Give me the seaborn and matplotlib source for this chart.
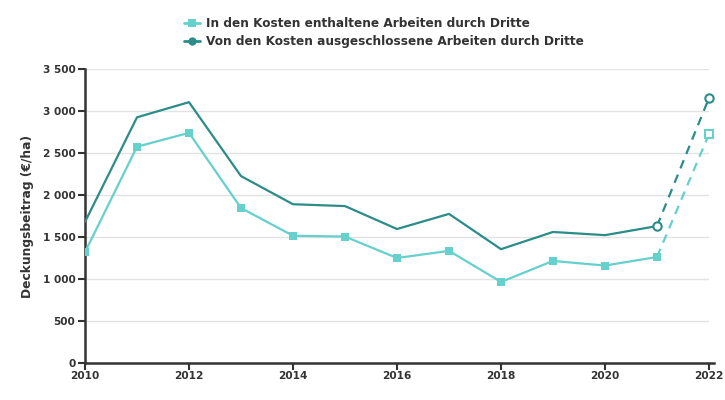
import matplotlib
matplotlib.use("Agg")
import matplotlib.pyplot as plt
import seaborn as sns
import pandas as pd
from matplotlib.lines import Line2D
from matplotlib.ticker import FuncFormatter

years = [2010, 2011, 2012, 2013, 2014, 2015, 2016, 2017, 2018, 2019, 2020, 2021, 2022]
incl = [1320, 2575, 2740, 1845, 1515, 1505, 1250, 1335, 965, 1215, 1160, 1262, 2725]
excl = [1680, 2925, 3105, 2225, 1890, 1868, 1595, 1775, 1355, 1560, 1522, 1630, 3155]
labels = ["In den Kosten enthaltene Arbeiten durch Dritte",
          "Von den Kosten ausgeschlossene Arbeiten durch Dritte"]
light = "#66d0cc"
dark = "#2b8c88"
txt = "#333333"

sns.set_theme(style="white")
plt.rcParams['font.family'] = ['DejaVu Sans']

df_i = pd.DataFrame({"year": years, "val": incl})
df_e = pd.DataFrame({"year": years, "val": excl})

fig = plt.figure(figsize=(7.25, 4.0), dpi=100)
ax = fig.add_axes([85/725, 1-363/400, (709-85)/725, (363-69)/400])

for yv in range(500, 3501, 500):
    ax.axhline(yv, color="#e3e3e3", lw=1, zorder=0)

sns.lineplot(data=df_e.iloc[:12], x="year", y="val", color=dark, lw=1.6, ax=ax, zorder=3)
sns.lineplot(data=df_e.iloc[11:], x="year", y="val", color=dark, lw=1.6, ls=(0, (4, 3)), ax=ax, zorder=3)
sns.lineplot(data=df_i.iloc[:12], x="year", y="val", color=light, lw=1.6, ax=ax, zorder=4,
             marker="s", markersize=6, markeredgewidth=0)
sns.lineplot(data=df_i.iloc[11:], x="year", y="val", color=light, lw=1.6, ls=(0, (4, 3)), ax=ax, zorder=4)
ax.plot(df_e["year"].iloc[11:], df_e["val"].iloc[11:], ls="none", marker="o", markersize=6,
        markerfacecolor="white", markeredgecolor=dark, markeredgewidth=1.5, zorder=5, clip_on=False)
ax.plot(df_i["year"].iloc[12:], df_i["val"].iloc[12:], ls="none", marker="s", markersize=6,
        markerfacecolor="white", markeredgecolor=light, markeredgewidth=1.5, zorder=5, clip_on=False)

ax.set_xlim(2010, 2022)
ax.set_ylim(0, 3500)
ax.set_xticks(range(2010, 2023, 2))
ax.set_yticks(range(0, 3501, 500))
ax.yaxis.set_major_formatter(FuncFormatter(lambda v, p: f"{int(v):,}".replace(",", " ")))
for l in ax.get_xticklabels() + ax.get_yticklabels():
    l.set_fontweight("bold")
    l.set_color(txt)
ax.tick_params(axis="both", labelsize=7.6, colors=txt, length=5, width=1.5, direction="out",
               bottom=True, left=True, pad=2)
ax.tick_params(axis="x", pad=1)
for s in ["top", "right"]:
    ax.spines[s].set_visible(False)
for s in ["left", "bottom"]:
    ax.spines[s].set_color(txt)
    ax.spines[s].set_linewidth(1.8)
ax.spines["bottom"].set_bounds(2010, 2022.1)
ax.set_xlabel("")
ax.set_ylabel("Deckungsbeitrag (€/ha)", fontsize=8.8, fontweight="bold", color=txt, labelpad=6)

handles = [Line2D([0], [0], color=light, lw=2, marker="s", markersize=6, markeredgewidth=0),
           Line2D([0], [0], color=dark, lw=2, marker="o", markersize=6, markeredgewidth=0)]
leg = fig.legend(handles, labels, loc="upper center", bbox_to_anchor=(0.53, 0.985), frameon=False,
                 prop={"weight": "bold", "size": 8.7}, handlelength=1.3, handletextpad=0.5,
                 labelspacing=0.45)
for t in leg.get_texts():
    t.set_color(txt)

fig.savefig("out.png", dpi=100)
